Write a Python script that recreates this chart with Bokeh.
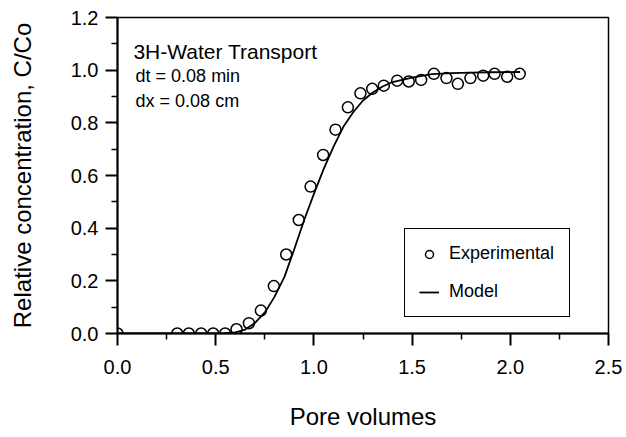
from bokeh.plotting import figure
from bokeh.models import (Range1d, FixedTicker, Legend, LegendItem, Label, ColumnDataSource)
from bokeh.embed import file_html
from bokeh.resources import INLINE

# Experimental data (pore volumes vs C/Co)
exp_x = [0.0, 0.304, 0.363, 0.426, 0.487, 0.548, 0.606, 0.669, 0.73, 0.796,
         0.859, 0.923, 0.983, 1.047, 1.110, 1.173, 1.237, 1.297, 1.356, 1.424,
         1.483, 1.546, 1.611, 1.675, 1.733, 1.797, 1.862, 1.92, 1.984, 2.048]
exp_y = [0.0, 0.0, 0.0, 0.0, 0.0, 0.0, 0.016, 0.039, 0.087, 0.18,
         0.30, 0.431, 0.558, 0.678, 0.774, 0.859, 0.912, 0.929, 0.941, 0.960,
         0.957, 0.963, 0.986, 0.970, 0.948, 0.970, 0.979, 0.986, 0.975, 0.986]

# Model curve
model_x = [0.0, 0.5, 0.55, 0.6, 0.65, 0.7, 0.75, 0.8, 0.85, 0.9, 0.95, 1.0,
           1.05, 1.1, 1.15, 1.2, 1.25, 1.3, 1.35, 1.4, 1.5, 1.6, 1.7, 1.8,
           1.9, 2.05]
model_y = [0.0, 0.0, 0.001, 0.004, 0.015, 0.04, 0.08, 0.14, 0.215, 0.32,
           0.43, 0.53, 0.625, 0.71, 0.785, 0.84, 0.885, 0.915, 0.938, 0.955,
           0.972, 0.985, 0.989, 0.991, 0.992, 0.993]

x_ticks = [0.0, 0.5, 1.0, 1.5, 2.0, 2.5]
y_ticks = [0.0, 0.2, 0.4, 0.6, 0.8, 1.0, 1.2]
x_minor = [0.25, 0.75, 1.25, 1.75, 2.25]
y_minor = [0.1, 0.3, 0.5, 0.7, 0.9, 1.1]

FONT = "Liberation Sans"

p = figure(width=626, height=437, output_backend="svg", toolbar_location=None,
           x_range=Range1d(0, 2.5), y_range=Range1d(0, 1.2),
           min_border_left=117, min_border_right=18, min_border_top=17,
           min_border_bottom=104)
p.grid.visible = False
p.background_fill_color = "white"
p.border_fill_color = "white"
p.outline_line_color = "black"
p.outline_line_width = 1.5
p.outline_line_alpha = 1.0

p.xaxis.ticker = FixedTicker(ticks=x_ticks, minor_ticks=x_minor)
p.yaxis.ticker = FixedTicker(ticks=y_ticks, minor_ticks=y_minor)
p.xaxis.major_label_overrides = {v: f"{v:.1f}" for v in x_ticks}
p.yaxis.major_label_overrides = {v: f"{v:.1f}" for v in y_ticks}

for ax in (p.xaxis[0], p.yaxis[0]):
    ax.axis_line_width = 2
    ax.axis_line_color = "black"
    ax.major_tick_line_width = 2
    ax.minor_tick_line_width = 1.5
    ax.major_tick_in = 0
    ax.minor_tick_in = 0
    ax.major_tick_out = 12
    ax.minor_tick_out = 6
    ax.major_label_text_font = FONT
    ax.major_label_text_font_size = "20px"
    ax.major_label_text_color = "black"
    ax.axis_label_text_font = FONT
    ax.axis_label_text_font_size = "24px"
    ax.axis_label_text_font_style = "normal"
    ax.axis_label_text_color = "black"

p.xaxis.axis_label = "Pore volumes"
p.yaxis.axis_label = "Relative concentration, C/Co"
p.xaxis.major_label_standoff = 14
p.xaxis.axis_label_standoff = 26
p.yaxis.major_label_standoff = 7
p.yaxis.axis_label_standoff = 32

src_exp = ColumnDataSource(dict(x=exp_x, y=exp_y))
src_mod = ColumnDataSource(dict(x=model_x, y=model_y))

r_mod = p.line("x", "y", source=src_mod, line_color="black", line_width=1.8)
r_exp = p.scatter("x", "y", source=src_exp, marker="circle", size=11,
                  fill_color="white", fill_alpha=0.0, line_color="black",
                  line_width=1.5)

legend = Legend(items=[LegendItem(label="Experimental", renderers=[r_exp]),
                       LegendItem(label="Model", renderers=[r_mod])],
                location=(287, 16), orientation="vertical",
                border_line_color="black", border_line_width=1,
                border_line_alpha=1.0,
                background_fill_color="white", background_fill_alpha=1.0,
                label_text_font=FONT, label_text_font_size="18px",
                label_text_color="black",
                padding=14, spacing=17, margin=0,
                glyph_width=20, glyph_height=20, label_height=20,
                label_standoff=10, label_width=106)
p.add_layout(legend, "center")

p.add_layout(Label(x=0.081, y=1.07, text="3H-Water  Transport",
                   text_font=FONT, text_font_size="21px", text_color="black",
                   text_baseline="alphabetic"))
p.add_layout(Label(x=0.092, y=0.979, text="dt = 0.08 min",
                   text_font=FONT, text_font_size="18px", text_color="black",
                   text_baseline="alphabetic"))
p.add_layout(Label(x=0.092, y=0.884, text="dx = 0.08 cm",
                   text_font=FONT, text_font_size="18px", text_color="black",
                   text_baseline="alphabetic"))

open("out.html", "w").write(file_html(p, INLINE))
